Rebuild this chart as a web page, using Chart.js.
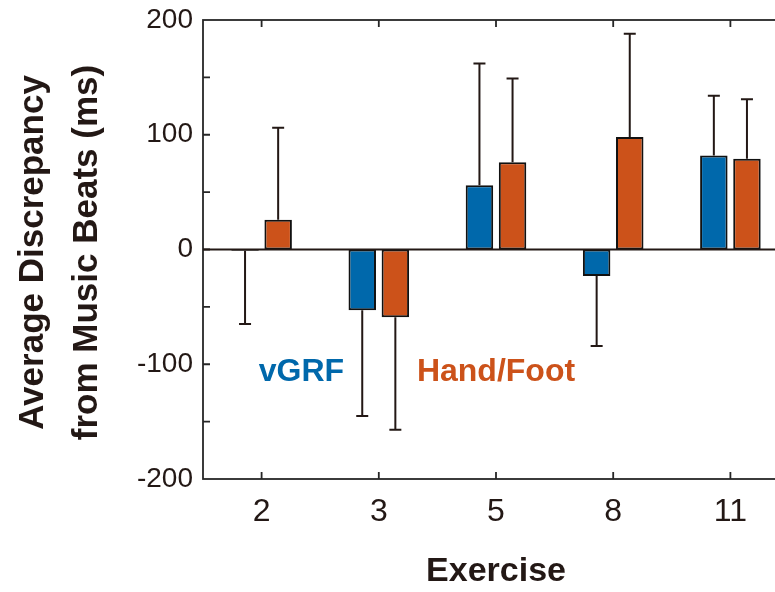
<!DOCTYPE html>
<html lang="en">
<head>
  <meta charset="UTF-8">
  <title>Average Discrepancy from Music Beats</title>
  <script src="https://cdn.jsdelivr.net/npm/chart.js"></script>
  <style>
    body {
      margin: 0;
      background: #fff;
      overflow: hidden;
    }
    #wrap {
      width: 792px;
      height: 592px;
    }
  </style>
</head>
<body>

  <div id="wrap"><canvas id="barChart" width="792" height="592"></canvas></div>

  <script>
    // data
    const exercises = ['2', '3', '5', '8', '11'];
    const vgrfMean = [-1, -53, 56, -23, 82];
    const vgrfSD = [64, 92, 106, 61, 52];
    const handFootMean = [26, -59, 76, 98, 79];
    const handFootSD = [80, 98, 73, 90, 52];
    const yMin = -200, yMax = 200, yStep = 100, yMinorStep = 50;

    const blue = '#0068ab';
    const orange = '#cc521a';
    const ink = '#231815';
    const font = '"Liberation Sans", Arial, sans-serif';

    // one-sided error bars, drawn away from zero
    const errorBars = {
      id: 'errorBars',
      afterDatasetsDraw(chart) {
        const ctx = chart.ctx;
        const y = chart.scales.y;
        ctx.save();
        ctx.strokeStyle = ink;
        ctx.lineWidth = 2;
        chart.data.datasets.forEach((ds, i) => {
          const meta = chart.getDatasetMeta(i);
          meta.data.forEach((bar, j) => {
            const m = ds.data[j];
            const end = m + (m < 0 ? -1 : 1) * ds.sd[j];
            const y0 = y.getPixelForValue(m);
            const y1 = y.getPixelForValue(end);
            ctx.beginPath();
            ctx.moveTo(bar.x, y0);
            ctx.lineTo(bar.x, y1);
            ctx.moveTo(bar.x - 6, y1);
            ctx.lineTo(bar.x + 6, y1);
            ctx.stroke();
          });
        });
        ctx.restore();
      }
    };

    // box, inward ticks, zero line and text labels
    const frame = {
      id: 'frame',
      afterDraw(chart) {
        const ctx = chart.ctx;
        const a = chart.chartArea;
        const x = chart.scales.x;
        const y = chart.scales.y;
        ctx.save();
        ctx.strokeStyle = '#262626';
        ctx.lineWidth = 1.8;
        ctx.strokeRect(a.left, a.top, a.right - a.left, a.bottom - a.top);

        ctx.beginPath();
        for (let v = yMin + yMinorStep; v < yMax; v += yMinorStep) {
          const py = y.getPixelForValue(v);
          ctx.moveTo(a.left, py);
          ctx.lineTo(a.left + 7, py);
          ctx.moveTo(a.right, py);
          ctx.lineTo(a.right - 7, py);
        }
        exercises.forEach((e, i) => {
          const px = x.getPixelForValue(i);
          ctx.moveTo(px, a.bottom);
          ctx.lineTo(px, a.bottom - 7);
          ctx.moveTo(px, a.top);
          ctx.lineTo(px, a.top + 7);
        });
        ctx.stroke();

        // zero line
        const y0 = y.getPixelForValue(0);
        ctx.strokeStyle = ink;
        ctx.lineWidth = 1.8;
        ctx.beginPath();
        ctx.moveTo(a.left, y0);
        ctx.lineTo(a.right, y0);
        ctx.stroke();

        // series labels inside the plot
        ctx.font = 'bold 32px ' + font;
        ctx.textAlign = 'center';
        ctx.textBaseline = 'alphabetic';
        ctx.fillStyle = blue;
        ctx.fillText('vGRF', x.getPixelForValue(0.34), y.getPixelForValue(-115));
        ctx.fillStyle = orange;
        ctx.fillText('Hand/Foot', x.getPixelForValue(2.0), y.getPixelForValue(-115));

        // y axis title, two lines
        ctx.fillStyle = ink;
        ctx.font = 'bold 35px ' + font;
        const cy = (a.top + a.bottom) / 2 + 3;
        [['Average Discrepancy', 43], ['from Music Beats (ms)', 97]].forEach(([t, bx]) => {
          ctx.save();
          ctx.translate(bx, cy);
          ctx.rotate(-Math.PI / 2);
          ctx.fillText(t, 0, 0);
          ctx.restore();
        });
        ctx.restore();
      }
    };

    const ctx = document.getElementById('barChart').getContext('2d');
    const chart = new Chart(ctx, {
      type: 'bar',
      data: {
        labels: exercises,
        datasets: [
          {
            label: 'vGRF',
            data: vgrfMean,
            sd: vgrfSD,
            backgroundColor: blue,
            borderColor: '#111',
            borderWidth: 2,
            borderSkipped: false
          },
          {
            label: 'Hand/Foot',
            data: handFootMean,
            sd: handFootSD,
            backgroundColor: orange,
            borderColor: '#111',
            borderWidth: 2,
            borderSkipped: false
          }
        ]
      },
      options: {
        responsive: false,
        animation: false,
        events: [],
        layout: { padding: { left: 0, top: 20, right: 3, bottom: 0 } },
        datasets: {
          bar: { categoryPercentage: 0.565, barPercentage: 0.83 }
        },
        plugins: {
          legend: { display: false },
          tooltip: { enabled: false }
        },
        scales: {
          x: {
            grid: { display: false, drawTicks: false },
            border: { display: false },
            ticks: {
              color: ink,
              padding: 14,
              font: { family: font, size: 32 }
            },
            title: {
              display: true,
              text: 'Exercise',
              color: ink,
              padding: { top: 0, bottom: 0 },
              font: { family: font, size: 34, weight: 'bold' }
            },
            afterFit(scale) {
              scale.height = 113;
              scale.paddingLeft = 0;
              scale.paddingRight = 0;
            }
          },
          y: {
            min: yMin,
            max: yMax,
            grid: { display: false, drawTicks: false },
            border: { display: false },
            ticks: {
              stepSize: yStep,
              color: ink,
              padding: 10,
              font: { family: font, size: 28 }
            },
            afterFit(scale) {
              scale.width = 203;
              scale.paddingTop = 0;
              scale.paddingBottom = 0;
            }
          }
        }
      },
      plugins: [errorBars, frame]
    });
  </script>

</body>
</html>
